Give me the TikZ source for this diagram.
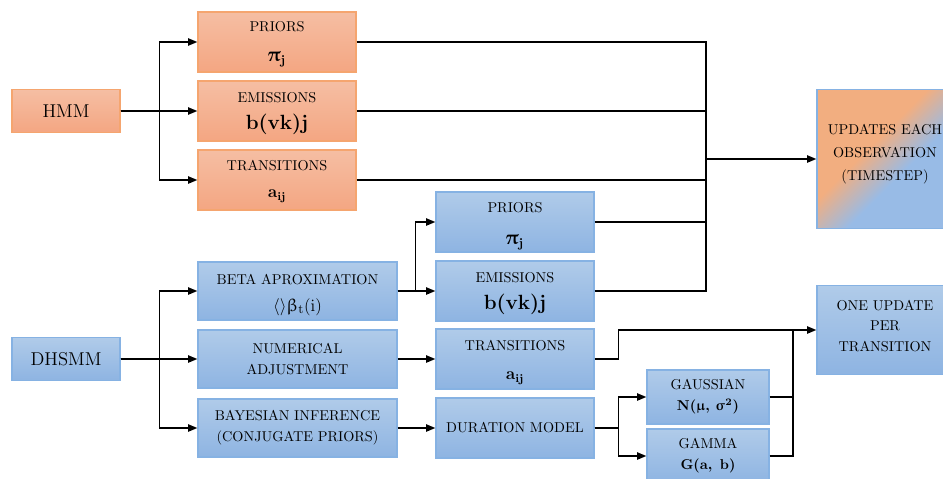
\documentclass[tikz,border=0pt]{standalone}
\usepackage{upgreek}
\usetikzlibrary{arrows.meta}

\definecolor{orTop}{HTML}{F5BEA3}
\definecolor{orBot}{HTML}{F4A682}
\definecolor{orLine}{HTML}{F5A56F}
\definecolor{blTop}{HTML}{B0CBE9}
\definecolor{blBot}{HTML}{8EB4E2}
\definecolor{blLine}{HTML}{86B2E3}
\definecolor{mixOr}{HTML}{F2AE80}
\definecolor{mixBl}{HTML}{98BBE6}

% diagonal orange-to-blue blend for the shared result box
\pgfdeclarehorizontalshading{orbl}{100bp}{color(0bp)=(mixOr); color(43bp)=(mixOr); color(58bp)=(mixBl); color(100bp)=(mixBl)}

\tikzset{
  box/.style={rectangle, inner sep=0pt, align=center, line width=0.8pt,
              font=\fontsize{10}{14.5}\selectfont},
  hmmbox/.style={box, draw=orLine, top color=orTop, bottom color=orBot},
  dhsbox/.style={box, draw=blLine, top color=blTop, bottom color=blBot},
  wide/.style={minimum width=110.6pt, minimum height=42pt},
  wider/.style={minimum width=139.3pt, minimum height=40.6pt},
  rootbox/.style={minimum width=75.6pt, minimum height=29.8pt},
  small/.style={minimum width=85.4pt, minimum height=37.8pt},
  arr/.style={line width=1.25pt, -{Triangle[length=6.5pt,width=5pt]}},
  wire/.style={line width=1.25pt},
}
\newcommand{\bigmath}[1]{{\fontsize{13.5}{13.5}\selectfont\boldmath #1}}
% stacked lines moved up (positive) or down (negative) inside their box
\newcommand{\shifted}[2]{\raisebox{#1}[\height][\depth]{\begin{tabular}{@{}c@{}}#2\end{tabular}}}

\begin{document}
\begin{tikzpicture}[x=0.7pt, y=-0.7pt]
\useasboundingbox (0,0) rectangle (943,478);
\clip (0,0) rectangle (943,478);

% HMM branch
\node[hmmbox, rootbox, font=\fontsize{13}{15}\selectfont] (hmm) at (66,111) {HMM};
\node[hmmbox, wide] (pri1) at (277,42)  {\shifted{-0.5pt}{PRIORS\\[6.5pt]\bigmath{$\uppi_{\mathbf{j}}$}}};
\node[hmmbox, wide] (emi1) at (277,111) {\shifted{-0.7pt}{EMISSIONS\\[3.7pt]\bigmath{$\mathbf{b(vk)j}$}}};
\node[hmmbox, wide] (tra1) at (277,180) {\shifted{0pt}{TRANSITIONS\\[4.4pt]{\fontsize{12}{12}\selectfont$\mathbf{a_{ij}}$}}};

% result boxes
\node[box, draw=blLine, shading=orbl, shading angle=-45,
      minimum width=95.2pt, minimum height=97.3pt,
      font=\fontsize{10}{16}\selectfont] (upd) at (885,159)
      {\shifted{4.3pt}{UPDATES EACH\\OBSERVATION\\(TIMESTEP)}};
\node[dhsbox, minimum width=95.2pt, minimum height=62.3pt] (one) at (885,330)
      {\shifted{2.3pt}{ONE UPDATE\\PER\\TRANSITION}};

% DHSMM branch
\node[dhsbox, rootbox, font=\fontsize{13}{15}\selectfont] (dhsmm) at (66,359) {DHSMM};
\node[dhsbox, wider] (beta)   at (297.5,291) {\shifted{-1.8pt}{BETA APROXIMATION\\[4.4pt]{\fontsize{12.5}{12.5}\selectfont$\langle\rangle\upbeta_{\mathrm t}(\mathrm{i})$}}};
\node[dhsbox, wider] (numadj) at (297.5,359) {NUMERICAL\\ADJUSTMENT};
\node[dhsbox, wider] (bayes)  at (297.5,428) {BAYESIAN INFERENCE\\(CONJUGATE PRIORS)};

\node[dhsbox, wide] (pri2) at (515,222) {\shifted{-1.8pt}{PRIORS\\[7.9pt]\bigmath{$\uppi_{\mathbf{j}}$}}};
\node[dhsbox, wide] (emi2) at (515,291) {\shifted{-0.7pt}{EMISSIONS\\[3.7pt]\bigmath{$\mathbf{b(vk)j}$}}};
\node[dhsbox, wide] (tra2) at (515,359) {\shifted{-1.4pt}{TRANSITIONS\\[5.8pt]{\fontsize{12}{12}\selectfont$\mathbf{a_{ij}}$}}};
\node[dhsbox, wide] (dur)  at (515,428) {DURATION MODEL};

\node[dhsbox, small] (gauss) at (708,397) {GAUSSIAN\\{\boldmath$\mathbf{N}(\upmu,\,\upsigma^{\mathbf 2})$}};
\node[dhsbox, small] (gamma) at (708,456) {GAMMA\\{\boldmath$\mathbf{G(a,\ b)}$}};

% junction points
\coordinate (bus)  at (706,159);
\coordinate (join) at (793,330);

% HMM fan-out
\draw[arr] (hmm.east) -- (emi1.west);
\draw[arr] (hmm.east) -- ++(39,0) |- (pri1.west);
\draw[arr] (hmm.east) -- ++(39,0) |- (tra1.west);

% everything updated per observation
\draw[wire] (pri1.east) -| (bus);
\draw[wire] (emi1.east) -| (bus);
\draw[wire] (tra1.east) -| (bus);
\draw[wire] (pri2.east) -| (bus);
\draw[wire] (emi2.east) -| (bus);
\draw[arr] (bus) -- (upd.west);

% DHSMM fan-out
\draw[arr] (dhsmm.east) -- (numadj.west);
\draw[arr] (dhsmm.east) -- ++(39,0) |- (beta.west);
\draw[arr] (dhsmm.east) -- ++(39,0) |- (bayes.west);

\draw[arr] (beta.east) -- (emi2.west);
\draw[arr] (beta.east) -- ++(18,0) |- (pri2.west);
\draw[arr] (numadj.east) -- (tra2.west);
\draw[arr] (bayes.east) -- (dur.west);

\draw[arr] (dur.east) -- ++(24,0) |- (gauss.west);
\draw[arr] (dur.east) -- ++(24,0) |- (gamma.west);

% everything updated per transition
\draw[arr] (tra2.east) -- ++(24,0) |- (one.west);
\draw[wire] (gauss.east) -| (join);
\draw[wire] (gamma.east) -| (join);
\end{tikzpicture}
\end{document}
